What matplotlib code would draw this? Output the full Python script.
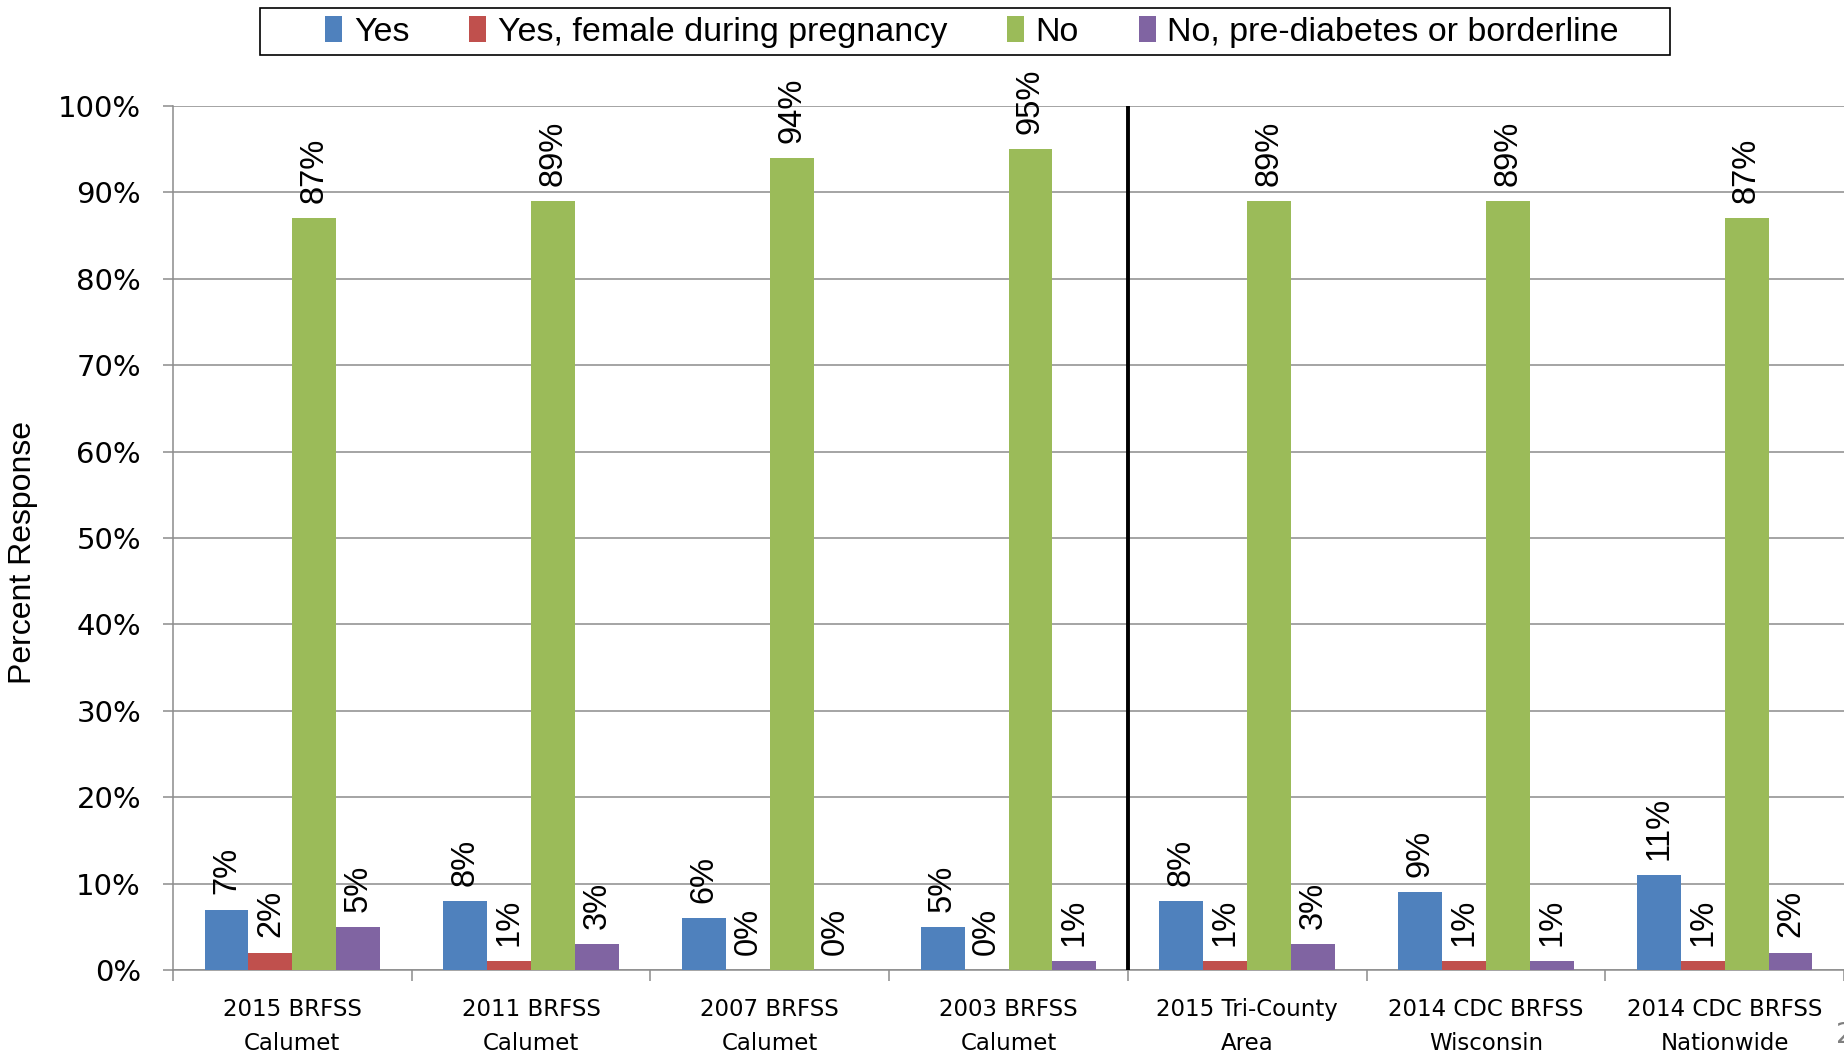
import matplotlib
matplotlib.use("Agg")
import matplotlib.pyplot as plt
from matplotlib.patches import Rectangle
import numpy as np

categories = ["2015 BRFSS\nCalumet", "2011 BRFSS\nCalumet", "2007 BRFSS\nCalumet",
              "2003 BRFSS\nCalumet", "2015 Tri-County\nArea", "2014 CDC BRFSS\nWisconsin",
              "2014 CDC BRFSS\nNationwide"]
series_names = ["Yes", "Yes, female during pregnancy", "No", "No, pre-diabetes or borderline"]
yes = [7, 8, 6, 5, 8, 9, 11]
yes_preg = [2, 1, 0, 0, 1, 1, 1]
no = [87, 89, 94, 95, 89, 89, 87]
no_pre = [5, 3, 0, 1, 3, 1, 2]
yticks = [0, 10, 20, 30, 40, 50, 60, 70, 80, 90, 100]
colors = ["#4F81BD", "#C0504D", "#9BBB59", "#8064A2"]

W, H = 1844, 1057
fig = plt.figure(figsize=(W / 100, H / 100), dpi=100)
ax = fig.add_axes([173 / W, 1 - 970 / H, (1844 - 173) / W, (970 - 106) / H])

x = np.arange(len(categories))
bw = 0.184
data = [yes, yes_preg, no, no_pre]
handles = []
for i, (vals, c, name) in enumerate(zip(data, colors, series_names)):
    pos = x + (i - 1.5) * bw
    b = ax.bar(pos, vals, width=bw, color=c, label=name, zorder=3)
    handles.append(b)
    for px, v in zip(pos, vals):
        ax.annotate(f"{v}%", (px, v), xytext=(0, 11), textcoords="offset points",
                    rotation=90, ha="center", va="bottom", fontsize=23.5,
                    family="Liberation Sans", annotation_clip=False, clip_on=False)

ax.set_xlim(-0.5, len(categories) - 0.5)
ax.set_ylim(0, 100)
ax.set_yticks(yticks)
ax.set_yticklabels([f"{t}%" for t in yticks], fontsize=21, family="DejaVu Sans")
ax.yaxis.grid(True, color="#8c8c8c", linewidth=1.1, zorder=0)
ax.set_axisbelow(True)

ax.set_xticks(x)
ax.set_xticklabels(categories, fontsize=16.5, family="DejaVu Sans", linespacing=1.65)
ax.set_xticks(np.arange(-0.5, len(categories)), minor=True)
ax.tick_params(axis="x", which="major", length=0, pad=20)
ax.tick_params(axis="x", which="minor", length=8, color="#8c8c8c", width=1.1, direction="out")
ax.tick_params(axis="y", length=7, color="#8c8c8c", width=1.1, pad=16)

for s in ["top", "right"]:
    ax.spines[s].set_visible(False)
for s in ["left", "bottom"]:
    ax.spines[s].set_color("#8c8c8c")
    ax.spines[s].set_linewidth(1.1)

ax.axvline(3.5, ymin=0, ymax=1, color="black", linewidth=2.8, zorder=4)

fig.text(23 / W, 1 - 552 / H, "Percent Response", fontsize=23, family="Liberation Sans",
         rotation=90, ha="center", va="center")

leg = fig.legend(handles=handles, labels=series_names, loc="center", ncol=4,
                 bbox_to_anchor=(972 / W, 1 - 32 / H), frameon=False,
                 prop={"family": "Liberation Sans", "size": 24.5},
                 handlelength=0.5, handleheight=0.8, handletextpad=0.35,
                 columnspacing=1.75, borderpad=0.3)
fig.patches.append(Rectangle((260 / W, 1 - 55 / H), (1670 - 260) / W, 47 / H,
                             transform=fig.transFigure, fill=False,
                             edgecolor="black", linewidth=1.2))

fig.text(1836 / W, 1 - 1035 / H, "2", fontsize=20, color="#7f7f7f", ha="left", va="center")

fig.savefig("out.png", dpi=100)
